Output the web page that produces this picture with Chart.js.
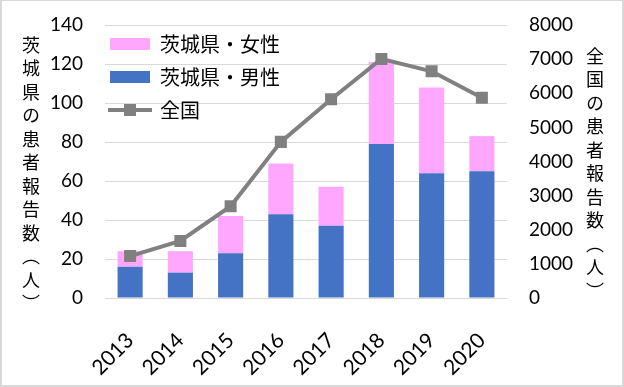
<!DOCTYPE html>
<html>
<head>
<meta charset="utf-8">
<script src="https://cdn.jsdelivr.net/npm/chart.js@4/dist/chart.umd.min.js"></script>
<style>
body{margin:0;background:#fff}
#wrap{position:relative;width:624px;height:387px}
#wrap canvas{position:absolute;left:0;top:0}
.frame{position:absolute;left:0;top:0;width:624px;height:387px;box-sizing:border-box;border:2px solid #d9d9d9;border-top-width:1px;pointer-events:none}
.ttl{position:absolute;writing-mode:vertical-rl;font-family:"Noto Sans CJK JP";font-size:18px;letter-spacing:5.5px;line-height:1;color:#000;white-space:nowrap}
</style>
</head>
<body>
<div id="wrap">
  <canvas id="chart" width="624" height="387"></canvas>
  <div class="ttl" style="left:22px;top:36px">茨城県の患者報告数（人）</div>
  <div class="ttl" style="left:586px;top:47px">全国の患者報告数（人）</div>
  <div class="frame"></div>
</div>
<script>
/* data */
const years = ['2013','2014','2015','2016','2017','2018','2019','2020'];
const ibarakiMale = [16, 13, 23, 43, 37, 79, 64, 65];
const ibarakiFemale = [8, 11, 19, 26, 20, 42, 44, 18];
const national = [1228, 1671, 2690, 4575, 5826, 7007, 6642, 5867];

const leftMax = 140, leftStep = 20;
const rightMax = 8000, rightStep = 1000;

const labelFemale = '茨城県・女性';
const labelMale = '茨城県・男性';
const labelNational = '全国';

const pink = '#FFA6FF';
const blue = '#4472C4';
const grey = '#808080';

/* legend icon for the line: line + square */
const lineIcon = document.createElement('canvas');
lineIcon.width = 44;
lineIcon.height = 14;
(function(){
  const c = lineIcon.getContext('2d');
  c.strokeStyle = grey;
  c.lineWidth = 4;
  c.beginPath();
  c.moveTo(0, 7);
  c.lineTo(44, 7);
  c.stroke();
  c.fillStyle = grey;
  c.fillRect(16, 1, 12, 12);
})();

/* legend sits inside the plot, top left */
const legendSpot = {
  id:'legendSpot',
  afterLayout(chart){
    const lg = chart.legend;
    if(!lg) return;
    const h = lg.height;
    lg.left = 97;
    lg.top = 21;
    lg.bottom = lg.top + h;
  }
};

/* y axes: keep tick padding from growing the chart margins */
function fitY(w){
  return (s)=>{
    s.width = w;
    s.paddingTop = 0;
    s.paddingBottom = 0;
  };
}

const tickFont = {family:'Lato', size:19};

new Chart(document.getElementById('chart'), {
  type:'bar',
  plugins:[legendSpot],
  data:{
    labels:years,
    datasets:[
      {
        type:'line',
        label:labelNational,
        data:national,
        yAxisID:'y2',
        borderColor:grey,
        backgroundColor:grey,
        borderWidth:4,
        pointStyle:'rect',
        pointRadius:8.5,
        pointBorderWidth:0,
        pointBackgroundColor:grey,
        tension:0
      },
      {
        label:labelMale,
        data:ibarakiMale,
        yAxisID:'y',
        backgroundColor:blue,
        barPercentage:0.5,
        categoryPercentage:1
      },
      {
        label:labelFemale,
        data:ibarakiFemale,
        yAxisID:'y',
        backgroundColor:pink,
        barPercentage:0.5,
        categoryPercentage:1
      }
    ]
  },
  options:{
    responsive:false,
    animation:false,
    devicePixelRatio:1,
    layout:{padding:{top:25, left:0, right:0, bottom:0}},
    plugins:{
      tooltip:{enabled:false},
      legend:{
        position:'chartArea',
        align:'start',
        labels:{
          usePointStyle:true,
          pointStyleWidth:40,
          boxHeight:12,
          padding:13,
          color:'#000',
          font:{family:'Noto Sans CJK JP', size:20},
          sort:(a,b)=>b.datasetIndex - a.datasetIndex,
          generateLabels:(chart)=>{
            const items = Chart.defaults.plugins.legend.labels.generateLabels(chart);
            items.forEach(it=>{
              if(it.datasetIndex === 0){
                it.pointStyle = lineIcon;
              } else {
                it.pointStyle = 'rect';
                it.lineWidth = 0;
              }
            });
            return items;
          }
        }
      }
    },
    scales:{
      x:{
        stacked:true,
        grid:{display:false, drawTicks:false},
        border:{display:false},
        ticks:{font:{family:'Lato', size:21}, color:'#000', minRotation:45, maxRotation:45, padding:30},
        afterFit:(s)=>{ s.height = 89; }
      },
      y:{
        position:'left',
        stacked:true,
        min:0,
        max:leftMax,
        grid:{color:'#d9d9d9', lineWidth:1, drawTicks:false},
        border:{display:false},
        ticks:{stepSize:leftStep, font:tickFont, color:'#000', padding:22},
        afterFit:fitY(105)
      },
      y2:{
        position:'right',
        min:0,
        max:rightMax,
        grid:{display:false, drawTicks:false},
        border:{display:false},
        ticks:{stepSize:rightStep, font:tickFont, color:'#000', padding:22, callback:(v)=>String(v)},
        afterFit:fitY(117)
      }
    }
  }
});
</script>
</body>
</html>
